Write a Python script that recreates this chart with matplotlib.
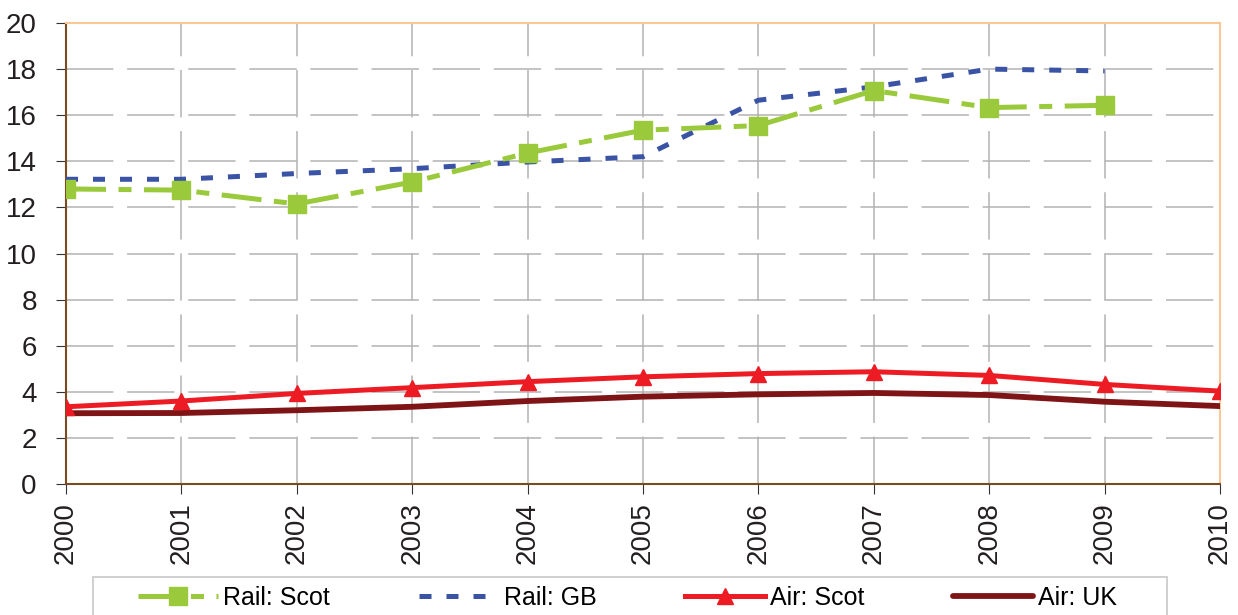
import matplotlib
matplotlib.use("Agg")
import matplotlib.pyplot as plt
from matplotlib.patches import Rectangle

plt.rcParams['font.family'] = ['Liberation Sans', 'DejaVu Sans']

years = list(range(2000, 2011))
rail_scot = [12.8, 12.75, 12.15, 13.1, 14.36, 15.35, 15.55, 17.07, 16.33, 16.43]
rail_gb = [13.22, 13.22, 13.47, 13.68, 13.97, 14.2, 16.65, 17.23, 18.0, 17.92]
air_scot = [3.35, 3.6, 3.93, 4.18, 4.44, 4.65, 4.79, 4.87, 4.71, 4.32, 4.03]
air_uk = [3.07, 3.08, 3.2, 3.35, 3.6, 3.79, 3.89, 3.95, 3.86, 3.57, 3.38]

W, H = 1238, 615
fig = plt.figure(figsize=(W / 100, H / 100), dpi=100)
ax = fig.add_axes([66 / W, 1 - 484 / H, (1220 - 66) / W, (484 - 23) / H])

ax.plot(years[:10], rail_scot, color='#9ACA3C', lw=3.6, dashes=(8, 2.5, 2.6, 2.5),
        marker='s', ms=13, label='Rail: Scot', zorder=4)
ax.plot(years[:10], rail_gb, color='#3A53A4', lw=3.6, dashes=(2.4, 3),
        label='Rail: GB', zorder=3)
ax.plot(years, air_scot, color='#ED1C24', lw=3.6, marker='^', ms=12,
        label='Air: Scot', zorder=4)
ax.plot(years, air_uk, color='#7F1416', lw=4.2, solid_capstyle='round',
        label='Air: UK', zorder=3)

ax.set_xlim(2000, 2010)
ax.set_ylim(0, 20)
ax.set_xticks(years)
ax.set_xticklabels([str(y) for y in years], rotation=90)
ax.set_yticks(range(0, 21, 2))
ax.tick_params(axis='both', labelsize=20, length=7, color='#333333', labelcolor='#231F20')
ax.tick_params(axis='y', pad=14)
ax.tick_params(axis='x', pad=6)

ax.grid(True, color='#B3B3B3', lw=1.1, linestyle=(0, (31, 9)))
ax.set_axisbelow(True)

ax.spines['left'].set_color('#7A4A20')
ax.spines['bottom'].set_color('#7A4A20')
ax.spines['top'].set_color('#F9C893')
ax.spines['right'].set_color('#F9C893')
for s in ax.spines.values():
    s.set_linewidth(1.5)

# legend frame runs off the bottom edge, as in the original
fig.patches.append(Rectangle((93 / W, 1 - 630 / H), (1167 - 93) / W, (630 - 577) / H,
                             transform=fig.transFigure, facecolor='white',
                             edgecolor='#C8C8C8', lw=1.2, zorder=0))
leg = fig.legend(loc='center left', bbox_to_anchor=(138 / W, 1 - 598 / H),
                 ncol=4, fontsize=18, handlelength=3.2, handletextpad=0.2,
                 columnspacing=3.55, numpoints=1, borderpad=0, borderaxespad=0,
                 frameon=False)

fig.savefig('out.png', dpi=100)
